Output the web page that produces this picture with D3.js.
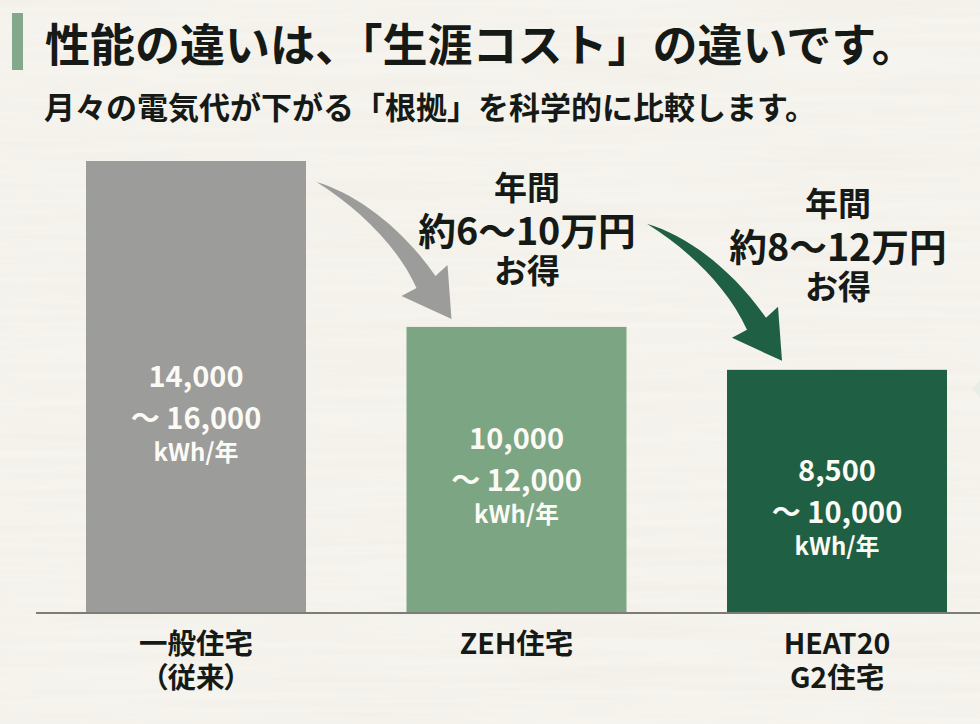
<!DOCTYPE html>
<html>
<head>
<meta charset="utf-8">
<script src="https://d3js.org/d3.v7.min.js"></script>
<style>
  html, body { margin: 0; padding: 0; background: #f4f2ec; }
  text { font-family: "Noto Sans CJK JP", "Noto Sans", sans-serif; font-weight: 700; }
</style>
</head>
<body>
<div id="chart"></div>
<script>
var categories = ["一般住宅", "ZEH住宅", "HEAT20"];
var categorySub = ["（従来）", "", "G2住宅"];
var barValues = [15800, 10000, 8500];
var rangeLow = ["14,000", "10,000", "8,500"];
var rangeHigh = ["〜 16,000", "〜 12,000", "〜 10,000"];
var barColors = ["#9c9c9a", "#7ba583", "#1f5f43"];

var savingAmount = ["約6〜10万円", "約8〜12万円"];
var savingColors = ["#9c9c9a", "#1f5f43"];

var width = 980, height = 724;
var margin = { top: 161, bottom: 111 };

var svg = d3.select("#chart")
  .append("svg")
  .attr("width", width)
  .attr("height", height)
  .style("display", "block");

// paper grain
var defs = svg.append("defs");
var grain = defs.append("filter").attr("id", "grain")
  .attr("x", 0).attr("y", 0).attr("width", "100%").attr("height", "100%");
grain.append("feTurbulence")
  .attr("type", "fractalNoise")
  .attr("baseFrequency", "0.004 0.12")
  .attr("numOctaves", 3)
  .attr("seed", 4);
grain.append("feColorMatrix")
  .attr("type", "matrix")
  .attr("values", "0 0 0 0 0.55  0 0 0 0 0.50  0 0 0 0 0.40  0.12 0 0 0 -0.03");

svg.append("rect").attr("width", width).attr("height", height).attr("fill", "#f6f4ee");
svg.append("rect").attr("width", width).attr("height", height).attr("filter", "url(#grain)");

// header
svg.append("rect")
  .attr("x", 12).attr("y", 13)
  .attr("width", 11).attr("height", 57)
  .attr("fill", "#83a88c");

svg.append("text")
  .attr("x", 45).attr("y", 62)
  .attr("font-size", 45)
  .attr("fill", "#151a17")
  .text("性能の違いは、「生涯コスト」の違いです。");

svg.append("text")
  .attr("x", 44).attr("y", 119)
  .attr("font-size", 31)
  .attr("fill", "#151a17")
  .text("月々の電気代が下がる「根拠」を科学的に比較します。");

// scales
var x = d3.scaleBand()
  .domain(categories)
  .range([86, 947])
  .paddingInner(0.3136)
  .paddingOuter(0);

var y = d3.scaleLinear()
  .domain([0, 15800])
  .range([height - margin.bottom, margin.top]);

// bars
svg.append("g").selectAll("rect")
  .data(categories)
  .enter()
  .append("rect")
  .attr("x", function (d) { return x(d); })
  .attr("y", function (d, i) { return y(barValues[i]); })
  .attr("width", x.bandwidth())
  .attr("height", function (d, i) { return y(0) - y(barValues[i]); })
  .attr("fill", function (d, i) { return barColors[i]; });

// baseline
svg.append("line")
  .attr("x1", 36).attr("x2", width)
  .attr("y1", y(0)).attr("y2", y(0))
  .attr("stroke", "#7d7d76")
  .attr("stroke-width", 2);

// labels inside the bars, nudged up from the middle of each bar
var innerShift = [0, -21, -10];
var inner = svg.append("g").selectAll("g")
  .data(categories)
  .enter()
  .append("g")
  .attr("transform", function (d, i) {
    var mid = (y(barValues[i]) + y(0)) / 2 + innerShift[i];
    return "translate(" + (x(d) + x.bandwidth() / 2) + "," + mid + ")";
  })
  .attr("text-anchor", "middle")
  .attr("fill", "#fbfaf5");

inner.append("text").attr("y", 0).attr("font-size", 29)
  .text(function (d, i) { return rangeLow[i]; });
inner.append("text").attr("y", 42).attr("font-size", 29)
  .text(function (d, i) { return rangeHigh[i]; });
inner.append("text").attr("y", 74).attr("font-size", 24)
  .text("kWh/年");

// category labels
var labels = svg.append("g").selectAll("g")
  .data(categories)
  .enter()
  .append("g")
  .attr("transform", function (d) {
    return "translate(" + (x(d) + x.bandwidth() / 2) + "," + y(0) + ")";
  })
  .attr("text-anchor", "middle")
  .attr("fill", "#151a17")
  .attr("font-size", 28.5)
  .style("font-feature-settings", "'palt'");

labels.append("text").attr("y", 41).text(function (d) { return d; });
labels.append("text").attr("y", 75).text(function (d, i) { return categorySub[i]; });

// saving arrows, shape given relative to the arrow tip
var arrowShape = "M-135,-137"
  + " C-95,-125 -50,-92 -16,-43"
  + " L-4,-54 L0,0 L-50,-23 L-35,-31"
  + " C-55,-75 -95,-112 -135,-137 Z";

var arrowTips = [
  { from: 1, dx: 45, dy: -8 },
  { from: 2, dx: 55, dy: -9 }
];

svg.append("g").selectAll("path")
  .data(arrowTips)
  .enter()
  .append("path")
  .attr("d", arrowShape)
  .attr("transform", function (d) {
    return "translate(" + (x(categories[d.from]) + d.dx) + "," + (y(barValues[d.from]) + d.dy) + ")";
  })
  .attr("fill", function (d, i) { return savingColors[i]; });

// saving captions
var saving = svg.append("g").selectAll("g")
  .data(savingAmount)
  .enter()
  .append("g")
  .attr("transform", function (d, i) {
    return "translate(" + (i === 0 ? 527 : 838) + "," + (i === 0 ? 200 : 215.5) + ")";
  })
  .attr("text-anchor", "middle")
  .attr("fill", "#151a17");

saving.append("text").attr("y", 0).attr("font-size", 33).text("年間");
saving.append("text").attr("y", 45).attr("font-size", 37.7).text(function (d) { return d; });
saving.append("text").attr("y", 83).attr("font-size", 33).text("お得");

// faint mark cut off by the right edge
svg.append("path")
  .attr("d", "M" + width + ",380 L972,389 L" + width + ",397 Z")
  .attr("fill", "#e8eee6");
</script>
</body>
</html>
